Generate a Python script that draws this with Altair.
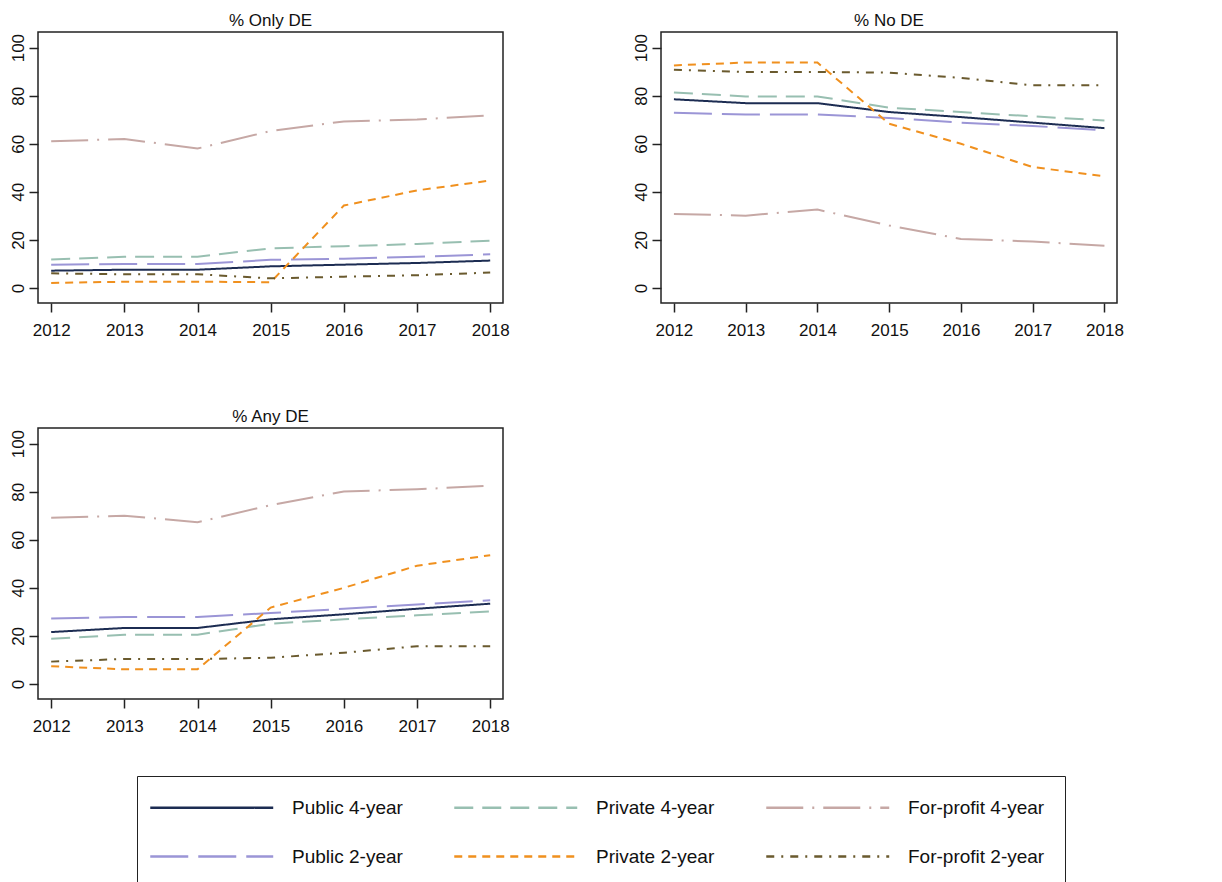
import altair as alt
import pandas as pd

years = [2012, 2013, 2014, 2015, 2016, 2017, 2018]
series = ["Public 4-year", "Private 4-year", "For-profit 4-year",
          "Public 2-year", "Private 2-year", "For-profit 2-year"]
colors = ["#1c2c52", "#98bfb1", "#c6a8a5", "#9b95d6", "#f0901e", "#6a5a2e"]
dashes = [[1, 0], [19, 9], [37, 9, 2, 9], [38, 10], [8, 6], [8, 7, 2, 7]]

# % Only DE
only_pub4 = [7.2, 7.6, 7.6, 9.0, 9.7, 10.4, 11.4]
only_priv4 = [11.8, 13.0, 13.0, 16.5, 17.4, 18.3, 19.7]
only_fp4 = [61.0, 62.0, 58.0, 65.3, 69.3, 70.1, 71.8]
only_pub2 = [9.7, 10.0, 10.0, 11.7, 12.2, 13.0, 14.0]
only_priv2 = [2.1, 2.6, 2.6, 2.4, 34.3, 40.6, 44.7]
only_fp2 = [6.1, 5.7, 5.7, 4.0, 4.7, 5.3, 6.4]

# % No DE
no_pub4 = [78.5, 76.9, 76.9, 73.2, 71.1, 68.8, 66.5]
no_priv4 = [81.3, 79.7, 79.7, 75.0, 73.2, 71.4, 69.7]
no_fp4 = [30.8, 30.1, 32.6, 26.0, 20.4, 19.3, 17.6]
no_pub2 = [72.9, 72.2, 72.2, 70.7, 68.8, 67.4, 65.6]
no_priv2 = [92.6, 93.8, 93.8, 68.3, 60.0, 50.3, 46.5]
no_fp2 = [90.8, 89.9, 89.9, 89.6, 87.4, 84.3, 84.3]

# % Any DE
any_pub4 = [21.6, 23.3, 23.3, 26.9, 29.0, 31.3, 33.4]
any_priv4 = [18.8, 20.5, 20.5, 25.1, 26.9, 28.6, 30.2]
any_fp4 = [69.2, 70.0, 67.3, 74.4, 80.1, 81.0, 82.5]
any_pub2 = [27.2, 27.9, 27.9, 29.5, 31.3, 33.1, 34.8]
any_priv2 = [7.4, 6.1, 6.1, 31.8, 40.0, 49.2, 53.6]
any_fp2 = [9.3, 10.4, 10.4, 10.9, 13.0, 15.7, 15.7]

panel_data = {
    "% Only DE": [only_pub4, only_priv4, only_fp4, only_pub2, only_priv2, only_fp2],
    "% No DE": [no_pub4, no_priv4, no_fp4, no_pub2, no_priv2, no_fp2],
    "% Any DE": [any_pub4, any_priv4, any_fp4, any_pub2, any_priv2, any_fp2],
}

rows = []
for p, lists in panel_data.items():
    for s, vals in zip(series, lists):
        for y, v in zip(years, vals):
            rows.append({"panel": p, "series": s, "year": y, "value": v})
df = pd.DataFrame(rows)

FONT = "Liberation Sans"

legend = alt.Legend(
    orient="none", legendX=99, legendY=744, columns=3, direction="horizontal",
    title=None,
    symbolType="M-1.78,0H10.22", symbolSize=420, symbolStrokeWidth=2.5,
    labelFontSize=19, labelFont=FONT, labelColor="#111", labelOffset=112,
    columnPadding=46, rowPadding=27, padding=20, labelLimit=0,
    strokeColor="#222", fillColor="white",
)


def panel(name, width):
    return alt.Chart(df[df.panel == name]).mark_line(strokeWidth=2).encode(
        x=alt.X("year:Q",
                scale=alt.Scale(domain=[2011.82, 2018.175], nice=False, zero=False),
                axis=alt.Axis(values=years, format="d", title=None, labelPadding=10)),
        y=alt.Y("value:Q",
                scale=alt.Scale(domain=[-6.25, 106.5], nice=False, zero=False),
                axis=alt.Axis(values=[0, 20, 40, 60, 80, 100], labelAngle=270,
                              title=None, labelPadding=2)),
        color=alt.Color("series:N", scale=alt.Scale(domain=series, range=colors),
                        legend=legend, sort=series),
        strokeDash=alt.StrokeDash("series:N", scale=alt.Scale(domain=series, range=dashes),
                                  legend=legend, sort=series),
    ).properties(width=width, height=271,
                 title=alt.TitleParams(name, fontSize=17, font=FONT, fontWeight="normal",
                                       color="#111", offset=2))


top = alt.hconcat(panel("% Only DE", 465), panel("% No DE", 456), spacing=121)
chart = alt.vconcat(top, panel("% Any DE", 465), spacing=68).properties(
    padding={"left": 0, "top": 3, "right": 0, "bottom": 0},
    background="white",
).configure_view(
    stroke="#222", strokeWidth=1.5
).configure_axis(
    domain=False, ticks=True, tickSize=9, tickWidth=1.5, tickColor="#222",
    labelFont=FONT, labelFontSize=17, labelColor="#111", grid=False,
)

chart.save("out.html", embed_options={"renderer": "svg", "actions": False})
